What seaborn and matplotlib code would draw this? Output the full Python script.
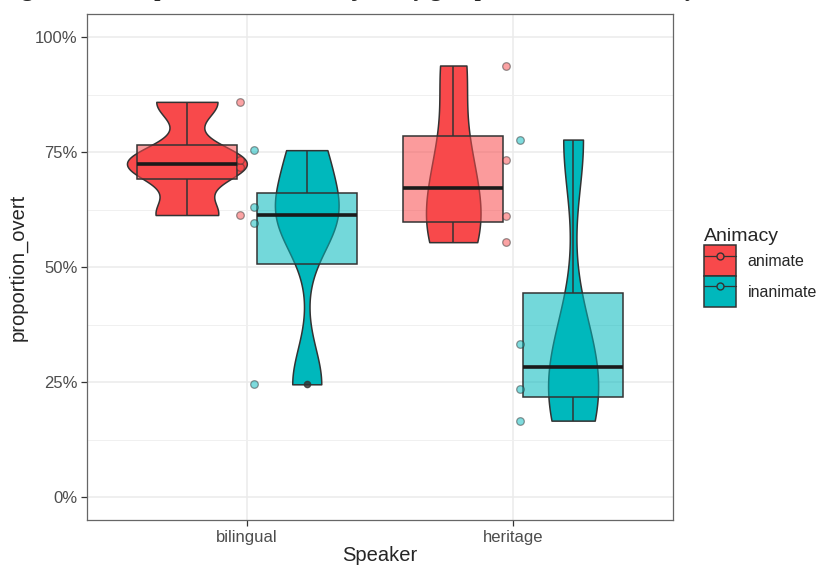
import numpy as np
import pandas as pd
import matplotlib
matplotlib.use("Agg")
import matplotlib.pyplot as plt
import seaborn as sns
from matplotlib.patches import Patch
from matplotlib.lines import Line2D
from matplotlib.legend_handler import HandlerTuple
from matplotlib.ticker import PercentFormatter, MultipleLocator
from matplotlib.transforms import ScaledTranslation

# Datos (proporción de sujetos explícitos por hablante)
speakers = ["bilingual", "heritage"]
animacy = ["animate", "inanimate"]
bilingual_animate = [0.613, 0.717, 0.733, 0.859]
bilingual_inanimate = [0.245, 0.595, 0.631, 0.754]
heritage_animate = [0.554, 0.611, 0.733, 0.938]
heritage_inanimate = [0.166, 0.234, 0.333, 0.777]

rows = []
for spk, anim, vals in [("bilingual", "animate", bilingual_animate),
                        ("bilingual", "inanimate", bilingual_inanimate),
                        ("heritage", "animate", heritage_animate),
                        ("heritage", "inanimate", heritage_inanimate)]:
    for v in vals:
        rows.append({"Speaker": spk, "Animacy": anim, "proportion_overt": v})
df = pd.DataFrame(rows)

colores = {"animate": "#F8494B", "inanimate": "#00B8BC"}
borde = "#333333"


# ancho de banda tipo R (bw.nrd0), expresado como factor de la desviación típica
def nrd0(kde):
    d = np.asarray(kde.dataset).ravel()
    sd = d.std(ddof=1)
    q1, q3 = np.percentile(d, [25, 75])
    bw = 0.9 * min(sd, (q3 - q1) / 1.34) * len(d) ** -0.2
    return bw / sd


sns.set_style("whitegrid")
plt.rcParams["font.family"] = ["Liberation Sans", "DejaVu Sans"]

fig = plt.figure(figsize=(8.2, 5.67), dpi=100)
ax = fig.add_axes([87 / 820, 47 / 567, 586 / 820, 506 / 567])

sns.violinplot(data=df, x="Speaker", y="proportion_overt", hue="Animacy",
               order=speakers, hue_order=animacy, palette=colores, saturation=1,
               inner=None, cut=0, density_norm="area", common_norm=True,
               bw_method=nrd0, width=0.9, gap=0, linecolor=borde, linewidth=1.1,
               legend=False, ax=ax)

sns.boxplot(data=df, x="Speaker", y="proportion_overt", hue="Animacy",
            order=speakers, hue_order=animacy, palette=colores, saturation=1,
            width=0.9, gap=0.167, whis=1.5, linecolor=borde, linewidth=1.1,
            medianprops={"color": "#1a1a1a", "linewidth": 2.6},
            capprops={"visible": False},
            flierprops={"marker": "o", "markerfacecolor": "#333333",
                        "markeredgecolor": "#333333", "markersize": 4.5, "alpha": 0.8},
            legend=False, ax=ax)

# cajas semitransparentes
for p in ax.patches:
    fc = p.get_facecolor()
    p.set_facecolor((fc[0], fc[1], fc[2], 0.55))

# puntos individuales, un poco desplazados del centro de cada hablante
for anim, dx in [("animate", -0.07), ("inanimate", 0.07)]:
    sub = df[df["Animacy"] == anim]
    n_antes = len(ax.collections)
    sns.stripplot(data=sub, x="Speaker", y="proportion_overt", order=speakers,
                  color=colores[anim], jitter=False, dodge=False, size=5.5,
                  alpha=0.5, edgecolor=borde, linewidth=0.9, zorder=4, ax=ax)
    for coll in ax.collections[n_antes:]:
        coll.set_offset_transform(ax.transData + ScaledTranslation(dx, 0, fig.dpi_scale_trans))

ax.set_xlim(-0.6, 1.6)
ax.set_ylim(-0.05, 1.05)
ax.yaxis.set_major_locator(MultipleLocator(0.25))
ax.yaxis.set_minor_locator(MultipleLocator(0.125))
ax.yaxis.set_major_formatter(PercentFormatter(1.0, decimals=0))
ax.grid(which="major", color="#EBEBEB", linewidth=1.1)
ax.grid(which="minor", axis="y", color="#F0F0F0", linewidth=0.7)
ax.set_axisbelow(True)
for s in ax.spines.values():
    s.set_visible(True)
    s.set_color("#666666")
    s.set_linewidth(0.9)
ax.tick_params(which="major", length=4.5, width=0.9, color="#333333",
               labelsize=12, labelcolor="#4D4D4D", pad=2.5)
ax.tick_params(which="minor", length=0)
ax.tick_params(axis="x", bottom=True)
ax.tick_params(axis="y", left=True)

ax.set_xlabel("Speaker", fontsize=14.5, labelpad=1)
ax.set_ylabel("proportion_overt", fontsize=14.5, labelpad=5)

# leyenda con un glifo parecido a caja + punto (superpuestos)
handles = []
for a in animacy:
    caja = Patch(facecolor=colores[a], edgecolor=borde, linewidth=1.1)
    linea = Line2D([], [], color=borde, linewidth=0.9, marker="o", markersize=5,
                   markerfacecolor=colores[a], markeredgecolor=borde)
    handles.append((caja, linea))
leg = fig.legend(handles, animacy, title="Animacy", loc="upper left",
                 bbox_to_anchor=(690 / 820, 1 - 214 / 567), frameon=False,
                 fontsize=11.5, title_fontsize=14, handlelength=2.0, handleheight=2.6,
                 labelspacing=0.0, handletextpad=0.7, alignment="left",
                 handler_map={tuple: HandlerTuple(ndivide=1, pad=0)})

fig.text(0.003, 1.0075, "Figure 2. Overt pronoun rate for subjects by group and referent animacy",
         fontfamily="Liberation Serif", fontweight="bold", fontsize=16, va="baseline")

fig.savefig("out.png", dpi=100)
